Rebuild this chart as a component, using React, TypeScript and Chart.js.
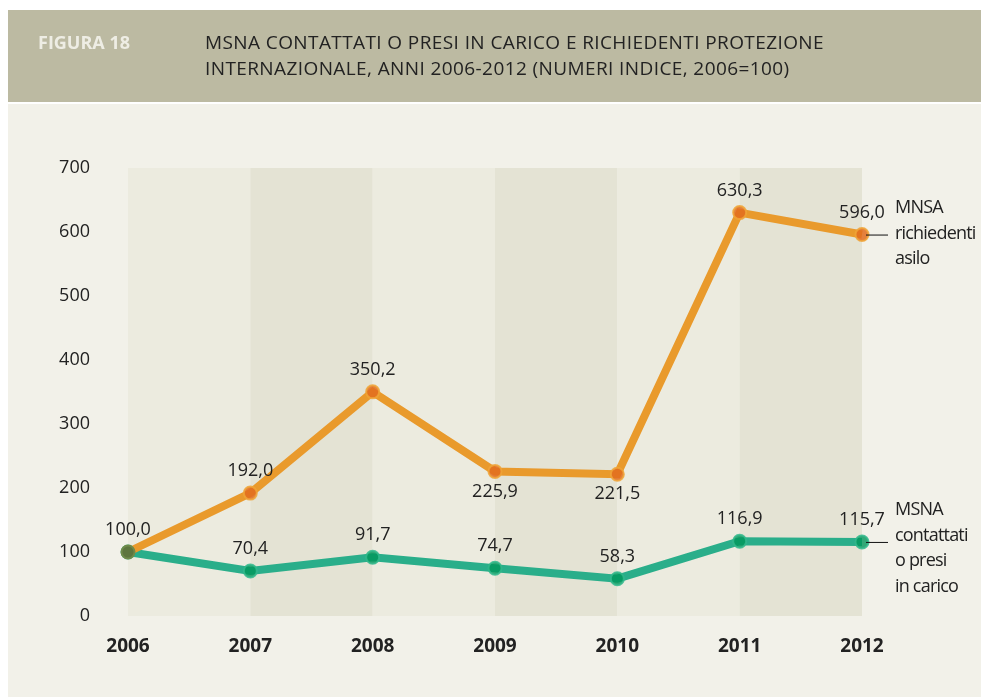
import React, { useEffect, useRef } from "react";
import { Chart, registerables } from "chart.js";

Chart.register(...registerables);

const years = ["2006", "2007", "2008", "2009", "2010", "2011", "2012"];
const richiedenti = [100.0, 192.0, 350.2, 225.9, 221.5, 630.3, 596.0];
const contattati = [100.0, 70.4, 91.7, 74.7, 58.3, 116.9, 115.7];
const yTicks = [0, 100, 200, 300, 400, 500, 600, 700];
// label placement: -1 above, +1 below, 0 none
const richiedentiPos = [0, -1, -1, 1, 1, -1, -1];
const contattatiPos = [-1, -1, -1, -1, -1, -1, -1];
const figureLabel = "FIGURA 18";
const titleLines = [
  "MSNA CONTATTATI O PRESI IN CARICO E RICHIEDENTI PROTEZIONE",
  "INTERNAZIONALE, ANNI 2006-2012 (NUMERI INDICE, 2006=100)",
];
const richiedentiName = ["MNSA", "richiedenti", "asilo"];
const contattatiName = ["MSNA", "contattati", "o presi", "in carico"];

const FONT = "'Open Sans', 'Noto Sans', sans-serif";
const W = 981;
const H = 697;

const fmt = (v: number) => v.toFixed(1).replace(".", ",");

export default function App() {
  const ref = useRef<HTMLCanvasElement | null>(null);

  useEffect(() => {
    if (!ref.current) return;

    const framePlugin = {
      id: "frame",
      beforeDraw(chart: any) {
        const ctx = chart.ctx;
        ctx.save();
        ctx.fillStyle = "#ffffff";
        ctx.fillRect(0, 0, W, H);
        ctx.fillStyle = "#bcbaa2";
        ctx.fillRect(8, 10, W - 8, 92);
        ctx.fillStyle = "#f2f1e9";
        ctx.fillRect(8, 104, W - 8, H - 104);
        ctx.textBaseline = "middle";
        ctx.textAlign = "left";
        ctx.fillStyle = "#eeede4";
        ctx.font = `bold 18px ${FONT}`;
        (ctx as any).letterSpacing = "0px";
        ctx.fillText(figureLabel, 38, 44);
        ctx.fillStyle = "#222222";
        ctx.font = `19px ${FONT}`;
        (ctx as any).letterSpacing = "0.4px";
        titleLines.forEach((t, i) => ctx.fillText(t, 205, 44 + i * 26));
        (ctx as any).letterSpacing = "0px";
        ctx.restore();
      },
      beforeDatasetsDraw(chart: any) {
        const ctx = chart.ctx;
        const x = chart.scales.x;
        const a = chart.chartArea;
        ctx.save();
        for (let i = 0; i < years.length - 1; i++) {
          const x0 = x.getPixelForValue(i);
          const x1 = x.getPixelForValue(i + 1);
          ctx.fillStyle = i % 2 === 0 ? "#ecebdf" : "#e4e3d4";
          ctx.fillRect(x0, a.top, x1 - x0, a.bottom - a.top);
        }
        ctx.restore();
      },
      afterDatasetsDraw(chart: any) {
        const ctx = chart.ctx;
        ctx.save();
        ctx.fillStyle = "#222222";
        ctx.font = `18px ${FONT}`;
        ctx.textAlign = "center";
        ctx.textBaseline = "middle";
        const series = [
          { data: richiedenti, pos: richiedentiPos, idx: 0 },
          { data: contattati, pos: contattatiPos, idx: 1 },
        ];
        series.forEach((s) => {
          const meta = chart.getDatasetMeta(s.idx);
          meta.data.forEach((pt: any, i: number) => {
            if (s.pos[i] === 0) return;
            const dy = s.pos[i] < 0 ? -22 : 20;
            ctx.fillText(fmt(s.data[i]), pt.x, pt.y + dy);
          });
        });
        // end labels with leader lines
        const m0 = chart.getDatasetMeta(0).data[years.length - 1];
        const m1 = chart.getDatasetMeta(1).data[years.length - 1];
        ctx.strokeStyle = "#111111";
        ctx.lineWidth = 1;
        ctx.beginPath();
        ctx.moveTo(m0.x + 4, m0.y + 0.5);
        ctx.lineTo(m0.x + 26, m0.y + 0.5);
        ctx.moveTo(m1.x + 4, m1.y + 0.5);
        ctx.lineTo(m1.x + 26, m1.y + 0.5);
        ctx.stroke();
        ctx.textAlign = "left";
        (ctx as any).letterSpacing = "-0.8px";
        richiedentiName.forEach((t, i) => ctx.fillText(t, 895, 208 + i * 25.5));
        contattatiName.forEach((t, i) => ctx.fillText(t, 895, 510 + i * 25.5));
        (ctx as any).letterSpacing = "0px";
        ctx.restore();
      },
    };

    const chart = new Chart(ref.current, {
      type: "line",
      data: {
        labels: years,
        datasets: [
          {
            data: richiedenti,
            borderColor: "#e99a2c",
            borderWidth: 8,
            pointRadius: 6.5,
            pointBorderWidth: 2,
            pointBackgroundColor: richiedenti.map((_, i) => (i === 0 ? "#5d763e" : "rgba(226,108,30,0.85)")),
            pointBorderColor: richiedenti.map((_, i) => (i === 0 ? "#6f8a4a" : "rgba(240,165,55,0.85)")),
            tension: 0,
          },
          {
            data: contattati,
            borderColor: "#2aae8a",
            borderWidth: 8,
            pointRadius: 6.5,
            pointBorderWidth: 2,
            pointBackgroundColor: "rgba(0,150,90,0.8)",
            pointBorderColor: "rgba(50,185,140,0.85)",
            tension: 0,
          },
        ],
      },
      options: {
        animation: false,
        responsive: false,
        maintainAspectRatio: false,
        devicePixelRatio: 1,
        layout: { padding: { left: 0, top: 168, right: W - 862, bottom: 0 } },
        plugins: { legend: { display: false }, tooltip: { enabled: false }, title: { display: false } },
        scales: {
          x: {
            type: "category",
            offset: false,
            grid: { display: false, drawTicks: false },
            border: { display: false },
            ticks: {
              color: "#222222",
              font: { family: FONT, size: 19, weight: "bold" },
              padding: 19,
              maxRotation: 0,
            },
            afterFit(s: any) {
              s.height = H - 616;
              s.paddingLeft = 0;
              s.paddingRight = 0;
            },
          },
          y: {
            min: 0,
            max: 700,
            grid: { display: false, drawTicks: false },
            border: { display: false },
            afterBuildTicks(s: any) {
              s.ticks = yTicks.map((v) => ({ value: v }));
            },
            ticks: {
              color: "#222222",
              font: { family: FONT, size: 18 },
              padding: 38,
            },
            afterFit(s: any) {
              s.width = 128;
              s.paddingTop = 0;
              s.paddingBottom = 0;
            },
          },
        },
      },
      plugins: [framePlugin],
    } as any);

    return () => chart.destroy();
  }, []);

  return (
    <div style={{ position: "absolute", left: 0, top: 0, width: W, height: H }}>
      <canvas ref={ref} width={W} height={H} style={{ width: W, height: H, display: "block" }} />
    </div>
  );
}
